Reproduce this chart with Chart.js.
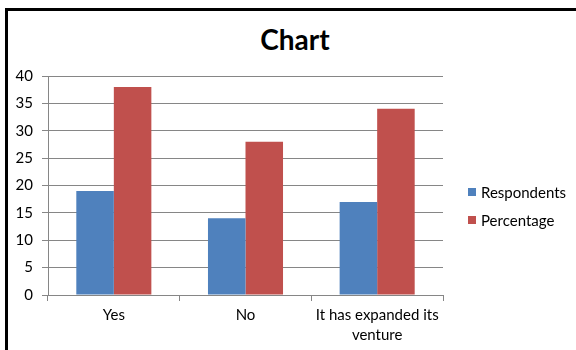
<!DOCTYPE html>
<html>
<head>
<meta charset="utf-8">
<script src="https://cdn.jsdelivr.net/npm/chart.js@4/dist/chart.umd.min.js"></script>
<style>
  html, body { margin: 0; padding: 0; background: #fff; overflow: hidden; }
  #wrap { position: relative; width: 576px; height: 350px; font-family: Lato, "Open Sans", sans-serif; }
  #frame { position: absolute; left: 5px; top: 8px; right: 0; bottom: 0;
           border-left: 3px solid #000; border-top: 3px solid #000; }
  #title { position: absolute; left: 0; width: 590px; top: 22px; text-align: center;
           font-weight: bold; font-size: 28px; line-height: 34px; color: #000; }
  #chart { position: absolute; left: 0; top: 0; }
  #legend { position: absolute; left: 468px; top: 181px; font-size: 15px; color: #000; }
  #legend .item { display: flex; align-items: center; height: 22px; margin-bottom: 6px; }
  #legend .sw { width: 8px; height: 8px; margin-right: 5px; }
</style>
</head>
<body>
<div id="wrap">
  <div id="frame"></div>
  <div id="title">Chart</div>
  <canvas id="chart" width="576" height="350"></canvas>
  <div id="legend"></div>
</div>
<script>
// Survey answers and counts
const categories = ['Yes', 'No', 'It has expanded its venture'];
const respondents = [19, 14, 17];
const percentage = [38, 28, 34];
const yTickValues = [0, 5, 10, 15, 20, 25, 30, 35, 40];

const seriesNames = ['Respondents', 'Percentage'];
const seriesColors = ['#4F81BD', '#C0504D'];
const FONT = 'Lato, "Open Sans", sans-serif';

// Break long category names onto several lines
function wrapLabel(text, maxChars) {
  const words = text.split(' ');
  const lines = [];
  let line = '';
  for (const w of words) {
    const next = line ? line + ' ' + w : w;
    if (next.length > maxChars && line) { lines.push(line); line = w; }
    else line = next;
  }
  if (line) lines.push(line);
  return lines.length > 1 ? lines : lines[0];
}

const gridColor = '#868686';

new Chart(document.getElementById('chart'), {
  type: 'bar',
  data: {
    labels: categories.map(c => wrapLabel(c, 20)),
    datasets: [
      { label: seriesNames[0], data: respondents, backgroundColor: seriesColors[0], borderWidth: 0 },
      { label: seriesNames[1], data: percentage, backgroundColor: seriesColors[1], borderWidth: 0 }
    ]
  },
  options: {
    responsive: false,
    animation: false,
    devicePixelRatio: 1,
    layout: { padding: { top: 76, left: 0, right: 133, bottom: 0 } },
    datasets: { bar: { categoryPercentage: 0.57, barPercentage: 1.0 } },
    plugins: {
      legend: { display: false },
      title: { display: false },
      tooltip: { enabled: false }
    },
    scales: {
      x: {
        grid: { display: true, drawOnChartArea: false, drawTicks: true, tickLength: 6,
                color: gridColor, offset: true },
        border: { color: gridColor, width: 1 },
        ticks: { color: '#000', font: { family: FONT, size: 15, lineHeight: 1.33 },
                 padding: 4, maxRotation: 0, autoSkip: false },
        afterFit(scale) { scale.height = 55; }
      },
      y: {
        min: yTickValues[0],
        max: yTickValues[yTickValues.length - 1],
        afterBuildTicks(scale) { scale.ticks = yTickValues.map(v => ({ value: v })); },
        grid: { color: gridColor, tickLength: 6, lineWidth: 1 },
        border: { color: gridColor, width: 1 },
        ticks: { color: '#000', font: { family: FONT, size: 15 }, padding: 9 },
        afterFit(scale) { scale.width = 48; }
      }
    }
  }
});

// Legend beside the plot
const legend = document.getElementById('legend');
seriesNames.forEach((name, i) => {
  const item = document.createElement('div');
  item.className = 'item';
  const sw = document.createElement('span');
  sw.className = 'sw';
  sw.style.background = seriesColors[i];
  const txt = document.createElement('span');
  txt.textContent = name;
  item.appendChild(sw);
  item.appendChild(txt);
  legend.appendChild(item);
});
</script>
</body>
</html>
